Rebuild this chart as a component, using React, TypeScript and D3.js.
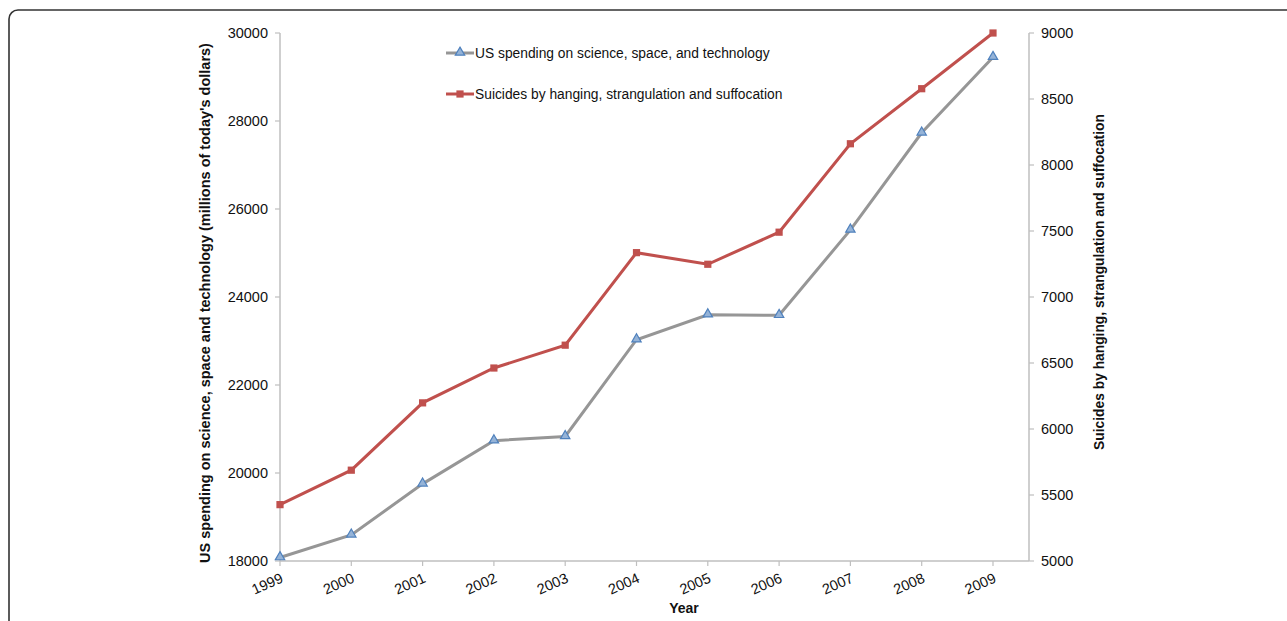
import { useEffect, useRef } from 'react'
import * as d3 from 'd3'

const years = ['1999', '2000', '2001', '2002', '2003', '2004', '2005', '2006', '2007', '2008', '2009']
const spending = [18079, 18594, 19753, 20734, 20831, 23029, 23597, 23584, 25525, 27731, 29449]
const suicides = [5427, 5688, 6198, 6462, 6635, 7336, 7248, 7491, 8161, 8578, 9000]
const leftTicks = [18000, 20000, 22000, 24000, 26000, 28000, 30000]
const rightTicks = [5000, 5500, 6000, 6500, 7000, 7500, 8000, 8500, 9000]

const spendingLabel = 'US spending on science, space, and technology'
const suicidesLabel = 'Suicides by hanging, strangulation and suffocation'

const font = "'Liberation Sans', Arial, sans-serif"

const App = () => {
  const svgRef = useRef<SVGSVGElement>(null)

  useEffect(() => {
    const width = 1287
    const height = 621
    const svg = d3.select(svgRef.current).attr('width', width).attr('height', height)
    svg.selectAll('*').remove()

    const left = 280
    const right = 1029
    const top = 33
    const bottom = 561
    const axisColor = '#bfbfbf'

    // frame, runs off the right and bottom edges
    svg
      .append('rect')
      .attr('x', 9)
      .attr('y', 10)
      .attr('width', 1300)
      .attr('height', 640)
      .attr('rx', 9)
      .attr('fill', 'none')
      .attr('stroke', '#333')
      .attr('stroke-width', 1.6)

    const x = d3.scalePoint<string>().domain(years).range([left, 993])
    const yL = d3.scaleLinear().domain([18000, 30000]).range([bottom, top])
    const yR = d3.scaleLinear().domain([5000, 9000]).range([bottom, top])

    // x axis
    svg
      .append('line')
      .attr('x1', left)
      .attr('x2', right)
      .attr('y1', bottom)
      .attr('y2', bottom)
      .attr('stroke', axisColor)
      .attr('stroke-width', 1.5)
    years.forEach((yr) => {
      const px = x(yr)!
      svg
        .append('line')
        .attr('x1', px)
        .attr('x2', px)
        .attr('y1', bottom)
        .attr('y2', bottom + 5)
        .attr('stroke', axisColor)
        .attr('stroke-width', 1.2)
      svg
        .append('text')
        .attr('transform', `translate(${px + 2},${bottom + 16}) rotate(-24)`)
        .attr('text-anchor', 'end')
        .attr('dy', '0.35em')
        .attr('font-family', font)
        .attr('font-size', 14.5)
        .attr('fill', '#111')
        .text(yr)
    })

    // left axis
    svg
      .append('line')
      .attr('x1', left)
      .attr('x2', left)
      .attr('y1', top)
      .attr('y2', bottom)
      .attr('stroke', axisColor)
      .attr('stroke-width', 1.5)
    leftTicks.forEach((t) => {
      svg
        .append('line')
        .attr('x1', left - 5)
        .attr('x2', left)
        .attr('y1', yL(t))
        .attr('y2', yL(t))
        .attr('stroke', axisColor)
        .attr('stroke-width', 1.2)
      svg
        .append('text')
        .attr('x', left - 12)
        .attr('y', yL(t))
        .attr('dy', '0.36em')
        .attr('text-anchor', 'end')
        .attr('font-family', font)
        .attr('font-size', 14.5)
        .attr('fill', '#111')
        .text(t)
    })

    // right axis
    svg
      .append('line')
      .attr('x1', right)
      .attr('x2', right)
      .attr('y1', top)
      .attr('y2', bottom)
      .attr('stroke', axisColor)
      .attr('stroke-width', 1.5)
    rightTicks.forEach((t) => {
      svg
        .append('line')
        .attr('x1', right)
        .attr('x2', right + 5)
        .attr('y1', yR(t))
        .attr('y2', yR(t))
        .attr('stroke', axisColor)
        .attr('stroke-width', 1.2)
      svg
        .append('text')
        .attr('x', right + 12)
        .attr('y', yR(t))
        .attr('dy', '0.36em')
        .attr('text-anchor', 'start')
        .attr('font-family', font)
        .attr('font-size', 14.5)
        .attr('fill', '#111')
        .text(t)
    })

    // axis titles
    svg
      .append('text')
      .attr('transform', `translate(210,${(top + bottom) / 2 + 6}) rotate(-90)`)
      .attr('text-anchor', 'middle')
      .attr('font-family', font)
      .attr('font-size', 14.5)
      .attr('font-weight', 'bold')
      .attr('fill', '#111')
      .text("US spending on science, space and technology (millions of today's dollars)")
    svg
      .append('text')
      .attr('transform', `translate(1104,${(top + bottom) / 2 - 15}) rotate(-90)`)
      .attr('text-anchor', 'middle')
      .attr('font-family', font)
      .attr('font-size', 13.8)
      .attr('font-weight', 'bold')
      .attr('fill', '#111')
      .text('Suicides by hanging, strangulation and suffocation')
    svg
      .append('text')
      .attr('x', 684)
      .attr('y', 613)
      .attr('text-anchor', 'middle')
      .attr('font-family', font)
      .attr('font-size', 14)
      .attr('font-weight', 'bold')
      .attr('fill', '#111')
      .text('Year')

    const grayLine = '#969696'
    const redLine = '#c0504d'
    const triStroke = '#4f81bd'
    const triFill = '#95b3d7'

    const tri = d3.symbol().type(d3.symbolTriangle).size(38)
    const sq = d3.symbol().type(d3.symbolSquare).size(52)

    // spending series
    const lineL = d3
      .line<number>()
      .x((_, i) => x(years[i])!)
      .y((d) => yL(d))
    svg
      .append('path')
      .attr('d', lineL(spending))
      .attr('fill', 'none')
      .attr('stroke', grayLine)
      .attr('stroke-width', 3)
    svg
      .selectAll('.tri')
      .data(spending)
      .join('path')
      .attr('transform', (d, i) => `translate(${x(years[i])},${yL(d) - 0.5})`)
      .attr('d', tri)
      .attr('fill', triFill)
      .attr('stroke', triStroke)
      .attr('stroke-width', 1.2)

    // suicides series
    const lineR = d3
      .line<number>()
      .x((_, i) => x(years[i])!)
      .y((d) => yR(d))
    svg
      .append('path')
      .attr('d', lineR(suicides))
      .attr('fill', 'none')
      .attr('stroke', redLine)
      .attr('stroke-width', 3)
    svg
      .selectAll('.sq')
      .data(suicides)
      .join('path')
      .attr('transform', (d, i) => `translate(${x(years[i])},${yR(d)})`)
      .attr('d', sq)
      .attr('fill', redLine)

    // legend
    const lg = svg.append('g').attr('transform', 'translate(446,53)')
    const items = [
      { label: spendingLabel, color: grayLine, marker: 'tri' },
      { label: suicidesLabel, color: redLine, marker: 'sq' },
    ]
    items.forEach((it, i) => {
      const g = lg.append('g').attr('transform', `translate(0,${i * 41})`)
      g.append('line')
        .attr('x1', 0)
        .attr('x2', 28)
        .attr('y1', 0)
        .attr('y2', 0)
        .attr('stroke', it.color)
        .attr('stroke-width', 3)
      if (it.marker === 'tri') {
        g.append('path')
          .attr('transform', 'translate(14,-0.5)')
          .attr('d', tri)
          .attr('fill', triFill)
          .attr('stroke', triStroke)
          .attr('stroke-width', 1.2)
      } else {
        g.append('path').attr('transform', 'translate(14,0)').attr('d', sq).attr('fill', redLine)
      }
      g.append('text')
        .attr('x', 29)
        .attr('y', 0)
        .attr('dy', '0.36em')
        .attr('font-family', font)
        .attr('font-size', 13.8)
        .attr('fill', '#111')
        .text(it.label)
    })
  }, [])

  return <svg ref={svgRef} style={{ position: 'absolute', left: 0, top: 0 }}></svg>
}

export default App
